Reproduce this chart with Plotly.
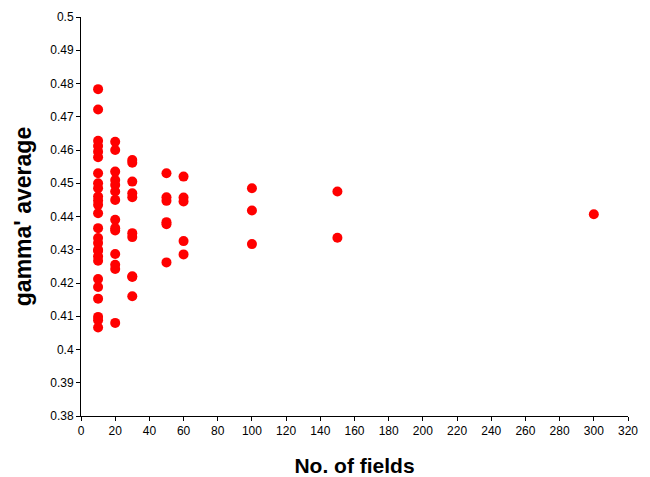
import plotly.graph_objects as go

fields_10 = [10] * 26
gamma_10 = [0.4783, 0.4722, 0.4628, 0.4612, 0.4595, 0.4578,
            0.4530, 0.4500, 0.4485, 0.4460, 0.4448, 0.4435, 0.4410,
            0.4365, 0.4335, 0.4320, 0.4297, 0.4280, 0.4267,
            0.4212, 0.4188, 0.4153, 0.4098, 0.4088, 0.4066, 0.4300]
fields_20 = [20] * 14
gamma_20 = [0.4625, 0.4600, 0.4535, 0.4510, 0.4495, 0.4475, 0.4450,
            0.4390, 0.4365, 0.4358, 0.4287, 0.4255, 0.4242, 0.4080]
fields_30 = [30] * 10
gamma_30 = [0.4570, 0.4562, 0.4505, 0.4470, 0.4458, 0.4350, 0.4338,
            0.4220, 0.4218, 0.4160]
fields_50 = [50] * 6
gamma_50 = [0.4530, 0.4458, 0.4447, 0.4383, 0.4377, 0.4262]
fields_60 = [60] * 5
gamma_60 = [0.4520, 0.4457, 0.4445, 0.4326, 0.4286]
fields_100 = [100] * 3
gamma_100 = [0.4485, 0.4418, 0.4317]
fields_150 = [150] * 2
gamma_150 = [0.4475, 0.4336]
fields_300 = [300]
gamma_300 = [0.4407]

x = fields_10 + fields_20 + fields_30 + fields_50 + fields_60 + fields_100 + fields_150 + fields_300
y = gamma_10 + gamma_20 + gamma_30 + gamma_50 + gamma_60 + gamma_100 + gamma_150 + gamma_300

x_ticks = list(range(0, 321, 20))
y_ticks = [0.38, 0.39, 0.40, 0.41, 0.42, 0.43, 0.44, 0.45, 0.46, 0.47, 0.48, 0.49, 0.50]
y_tick_labels = ["0.38", "0.39", "0.4", "0.41", "0.42", "0.43", "0.44", "0.45",
                 "0.46", "0.47", "0.48", "0.49", "0.5"]

fig = go.Figure(go.Scatter(
    x=x, y=y, mode="markers",
    marker=dict(color="#ff0000", size=10, line=dict(width=0)),
))

fig.update_layout(
    width=650, height=477,
    margin=dict(l=81, r=22, t=17, b=61),
    paper_bgcolor="white", plot_bgcolor="white",
    font=dict(family="Arial, Liberation Sans, sans-serif", size=12, color="black"),
    showlegend=False,
)
fig.update_xaxes(
    range=[0, 320], tickvals=x_ticks, showgrid=False, zeroline=False,
    showline=True, linecolor="black", linewidth=1,
    ticks="outside", ticklen=4, tickcolor="black", automargin=False,
    title=dict(text="<b>No. of fields</b>", font=dict(size=21), standoff=20),
)
fig.update_yaxes(
    range=[0.38, 0.5], tickvals=y_ticks, ticktext=y_tick_labels,
    showgrid=False, zeroline=False,
    showline=True, linecolor="black", linewidth=1,
    ticks="outside", ticklen=4, tickcolor="black", automargin=False,
    title=dict(text="<b>gamma' average</b>", font=dict(size=23), standoff=12),
)

fig.write_html("out.html")
